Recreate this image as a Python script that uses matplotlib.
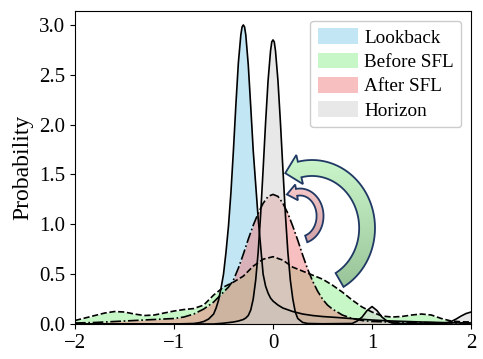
import numpy as np
import matplotlib
matplotlib.use('Agg')
import matplotlib.pyplot as plt
from matplotlib.patches import Polygon, Patch

plt.rcParams['font.family'] = ['Liberation Serif', 'DejaVu Serif']

# density curves
lookback_x = [-2.0, -1.0, -0.8, -0.75, -0.7, -0.65, -0.6, -0.575, -0.55, -0.525, -0.5, -0.475,
              -0.45, -0.425, -0.4, -0.375, -0.35, -0.325, -0.3125, -0.3, -0.2875, -0.275, -0.25,
              -0.225, -0.2, -0.175, -0.15, -0.125, -0.1, -0.075, -0.05, -0.025, 0.0, 0.05, 0.1,
              0.2, 0.3, 0.4, 0.5, 0.65, 0.85, 1.0, 1.2, 1.5, 1.8, 2.0]
lookback_y = [0.0, 0.0, 0.005, 0.012, 0.025, 0.05, 0.10, 0.16, 0.24, 0.36, 0.50, 0.72,
              0.98, 1.32, 1.74, 2.20, 2.62, 2.90, 2.98, 3.00, 2.98, 2.90, 2.60,
              2.18, 1.74, 1.40, 1.06, 0.78, 0.50, 0.38, 0.31, 0.26, 0.23, 0.19, 0.16,
              0.125, 0.10, 0.085, 0.075, 0.065, 0.05, 0.04, 0.03, 0.02, 0.012, 0.01]

before_x = [-2.0, -1.9, -1.8, -1.7, -1.6, -1.5, -1.4, -1.3, -1.2, -1.1, -1.0, -0.9, -0.8,
            -0.7, -0.6, -0.5, -0.4, -0.3, -0.2, -0.1, 0.0, 0.1, 0.2, 0.3, 0.4, 0.5, 0.6,
            0.7, 0.8, 0.9, 1.0, 1.1, 1.2, 1.3, 1.4, 1.5, 1.6, 1.7, 1.8, 1.9, 2.0]
before_y = [0.035, 0.06, 0.085, 0.11, 0.125, 0.12, 0.10, 0.085, 0.09, 0.11, 0.13, 0.145, 0.155,
            0.19, 0.29, 0.37, 0.42, 0.48, 0.58, 0.65, 0.675, 0.64, 0.57, 0.53, 0.49, 0.45, 0.39,
            0.32, 0.24, 0.17, 0.12, 0.08, 0.07, 0.075, 0.09, 0.10, 0.09, 0.055, 0.03, 0.022, 0.02]

after_x = [-2.0, -1.8, -1.6, -1.4, -1.2, -1.0, -0.9, -0.8, -0.7, -0.6, -0.55, -0.5, -0.45,
           -0.4, -0.35, -0.3, -0.25, -0.2, -0.15, -0.1, -0.05, 0.0, 0.05, 0.1, 0.15, 0.2,
           0.25, 0.3, 0.35, 0.4, 0.45, 0.5, 0.55, 0.6, 0.7, 0.8, 0.9, 1.0, 1.2, 1.5, 1.8, 2.0]
after_y = [0.01, 0.015, 0.025, 0.035, 0.045, 0.055, 0.07, 0.10, 0.15, 0.22, 0.27, 0.32, 0.37,
           0.44, 0.56, 0.70, 0.85, 0.99, 1.11, 1.21, 1.28, 1.30, 1.28, 1.21, 1.11, 0.98,
           0.84, 0.69, 0.55, 0.43, 0.33, 0.25, 0.19, 0.15, 0.09, 0.055, 0.035, 0.025, 0.02,
           0.015, 0.01, 0.01]

horizon_x = [-2.0, -0.6, -0.5, -0.4, -0.35, -0.3, -0.275, -0.25, -0.225, -0.2, -0.175, -0.15,
             -0.125, -0.1, -0.075, -0.05, -0.025, -0.0125, 0.0, 0.0125, 0.025, 0.05, 0.075, 0.1,
             0.125, 0.15, 0.175, 0.2, 0.225, 0.25, 0.3, 0.35, 0.5, 0.8, 0.85, 0.9, 0.95, 1.0,
             1.05, 1.1, 1.15, 1.2, 1.3, 1.6, 1.7, 1.75, 1.8, 1.85, 1.9, 1.95, 2.0]
horizon_y = [0.0, 0.0, 0.008, 0.02, 0.03, 0.045, 0.06, 0.085, 0.14, 0.25, 0.44, 0.72,
             1.10, 1.55, 2.02, 2.44, 2.74, 2.83, 2.85, 2.83, 2.74, 2.44, 2.02, 1.55,
             1.10, 0.72, 0.44, 0.25, 0.12, 0.055, 0.015, 0.005, 0.002, 0.005, 0.03, 0.07, 0.135,
             0.175, 0.135, 0.07, 0.03, 0.01, 0.004, 0.003, 0.005, 0.012, 0.025, 0.05, 0.08,
             0.105, 0.12]

names = ['Lookback', 'Before SFL', 'After SFL', 'Horizon']
colors = ['skyblue', 'lightgreen', 'lightcoral', 'lightgray']
styles = ['-', '--', '-.', '-']
curves = [(lookback_x, lookback_y), (before_x, before_y), (after_x, after_y), (horizon_x, horizon_y)]


def curved_arrow(ax, cx, cy, a, b, t0, t1, w, hw, hl, c_bot, c_top):
    t = np.radians(np.linspace(t0, t1, 80))
    outer = np.column_stack([cx + (a + w) * np.cos(t), cy + (b + w) * np.sin(t)])
    inner = np.column_stack([cx + (a - w) * np.cos(t), cy + (b - w) * np.sin(t)])
    tb = t[-1]
    base = np.array([cx + a * np.cos(tb), cy + b * np.sin(tb)])
    tan = np.array([-a * np.sin(tb), b * np.cos(tb)])
    tan /= np.hypot(*tan)
    h_out = [cx + (a + hw) * np.cos(tb), cy + (b + hw) * np.sin(tb)]
    h_in = [cx + (a - hw) * np.cos(tb), cy + (b - hw) * np.sin(tb)]
    tip = base + tan * hl
    pts = np.vstack([outer, [h_out], [tip], [h_in], inner[::-1]])
    poly = Polygon(pts, closed=True, facecolor='none', edgecolor='#1f3864',
                   linewidth=1.3, zorder=6)
    ax.add_patch(poly)
    # vertical colour gradient clipped to the arrow shape
    n = 64
    f = np.linspace(0, 1, n)[:, None]
    grad = (np.array(c_bot)[None, :] * (1 - f) + np.array(c_top)[None, :] * f)[:, None, :]
    x0, y0 = pts.min(axis=0)
    x1, y1 = pts.max(axis=0)
    im = ax.imshow(grad, extent=[x0, x1, y0, y1], origin='lower', aspect='auto',
                   interpolation='bilinear', zorder=5)
    clip = Polygon(pts, closed=True, transform=ax.transData)
    im.set_clip_path(clip)


fig, ax = plt.subplots(figsize=(4.83, 3.59), dpi=100)
fig.subplots_adjust(left=0.1553, right=0.9752, bottom=0.0975, top=0.9694)

handles = []
for (xs, ys), c, ls, name in zip(curves, colors, styles, names):
    ax.fill_between(xs, ys, 0, color=c, alpha=0.5, linewidth=0)
    ax.plot(xs, ys, color='black', linestyle=ls, linewidth=1.2)
    handles.append(Patch(facecolor=c, alpha=0.5, edgecolor='none', label=name))

curved_arrow(ax, 0.394, 0.963, 0.556, 0.602, -60, 103, 0.08, 0.15, 0.15,
             (0.60, 0.77, 0.60), (0.80, 0.97, 0.80))
curved_arrow(ax, 0.273, 1.083, 0.202, 0.241, -72, 100, 0.035, 0.08, 0.10,
             (0.82, 0.64, 0.66), (0.97, 0.79, 0.79))

ax.set_xlim(-2, 2)
ax.set_ylim(0, 3.14)
ax.set_xticks([-2, -1, 0, 1, 2])
ax.set_yticks([0.0, 0.5, 1.0, 1.5, 2.0, 2.5, 3.0])
ax.tick_params(labelsize=15)
ax.set_ylabel('Probability', fontsize=17)

ax.legend(handles=handles, loc='upper right', fontsize=13.8, handlelength=2.1,
          handleheight=0.9, labelspacing=0.3, borderpad=0.4, handletextpad=0.3,
          framealpha=1, edgecolor='#cccccc')

fig.savefig('out.png', dpi=100)
